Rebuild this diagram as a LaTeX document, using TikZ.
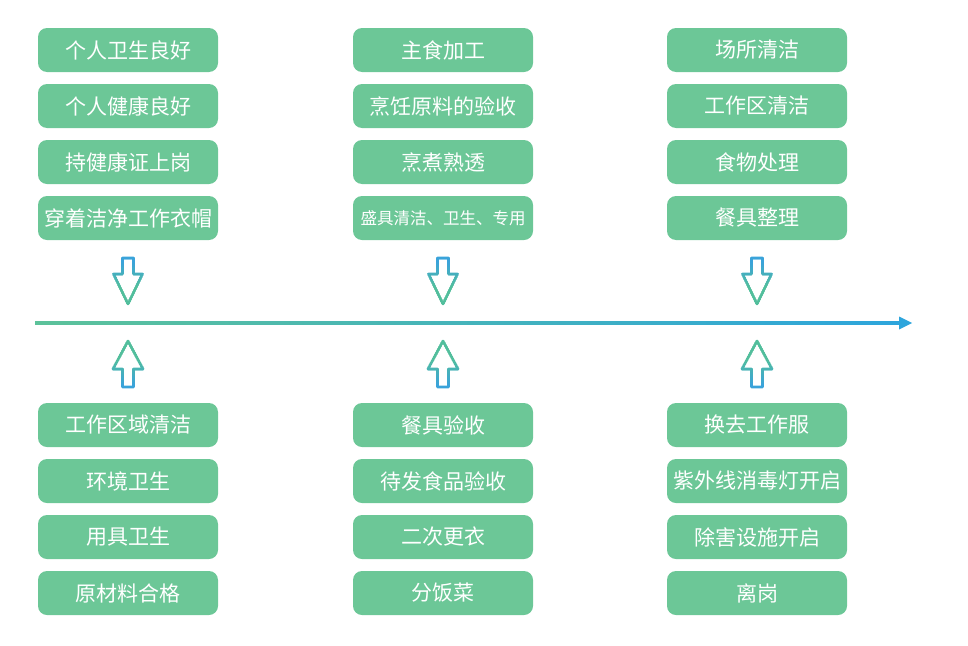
\documentclass[tikz,border=0pt]{standalone}
\usepackage{fontspec}
\newfontfamily\cjk{Noto Sans CJK SC}
\definecolor{boxgreen}{HTML}{6CC797}
\definecolor{arrblue}{HTML}{3AA3DA}
\definecolor{arrgreen}{HTML}{52BE9C}
\definecolor{linegreen}{HTML}{5CC29A}
\definecolor{lineblue}{HTML}{2DA5DC}
\tikzset{
  box/.style={rounded corners=9pt, fill=boxgreen, minimum width=180pt, minimum height=44pt,
    inner sep=0pt, text=white, font=\cjk\fontsize{21}{24}\selectfont},
  smallbox/.style={box, font=\cjk\fontsize{16.5}{20}\selectfont},
}
\newcommand{\downarrowshape}[1]{%
  (#1-5.5,258) -- (#1+5.5,258) -- (#1+5.5,274) -- (#1+14.5,274) -- (#1,304) -- (#1-14.5,274) -- (#1-5.5,274) -- cycle}
\newcommand{\uparrowshape}[1]{%
  (#1-5.5,387) -- (#1+5.5,387) -- (#1+5.5,369) -- (#1+15,369) -- (#1,341) -- (#1-15,369) -- (#1-5.5,369) -- cycle}
\begin{document}
\begin{tikzpicture}[x=1pt,y=-1pt]
\useasboundingbox (0,0) rectangle (968,645);
% top boxes
\node[box] (a1) at (128,50) {个人卫生良好};
\node[box] (a2) at (128,106) {个人健康良好};
\node[box] (a3) at (128,162) {持健康证上岗};
\node[box] (a4) at (128,218) {穿着洁净工作衣帽};
\node[box] (b1) at (443,50) {主食加工};
\node[box] (b2) at (443,106) {烹饪原料的验收};
\node[box] (b3) at (443,162) {烹煮熟透};
\node[smallbox] (b4) at (443,218) {盛具清洁、卫生、专用};
\node[box] (c1) at (757,50) {场所清洁};
\node[box] (c2) at (757,106) {工作区清洁};
\node[box] (c3) at (757,162) {食物处理};
\node[box] (c4) at (757,218) {餐具整理};
% bottom boxes
\node[box] (d1) at (128,425) {工作区域清洁};
\node[box] (d2) at (128,481) {环境卫生};
\node[box] (d3) at (128,537) {用具卫生};
\node[box] (d4) at (128,593) {原材料合格};
\node[box] (e1) at (443,425) {餐具验收};
\node[box] (e2) at (443,481) {待发食品验收};
\node[box] (e3) at (443,537) {二次更衣};
\node[box] (e4) at (443,593) {分饭菜};
\node[box] (f1) at (757,425) {换去工作服};
\node[box] (f2) at (757,481) {紫外线消毒灯开启};
\node[box] (f3) at (757,537) {除害设施开启};
\node[box] (f4) at (757,593) {离岗};
% timeline
\coordinate (ls) at (35,323);
\coordinate (le) at (899,323);
\coordinate (lt) at (912,323);
\shade[left color=linegreen, right color=lineblue] ([yshift=-1.1pt]ls) rectangle ([yshift=1.1pt]le);
\fill[lineblue] ([yshift=6.5pt]le) -- (lt) -- ([yshift=-6.5pt]le) -- cycle;
% hollow arrows with vertical gradient
\foreach \cx in {128,443,757} {
  \foreach \i in {0,...,24} {
    \pgfmathsetmacro{\ya}{255+2*\i}
    \pgfmathsetmacro{\yb}{\ya+2}
    \pgfmathsetmacro{\mixv}{max(0,min(100,(\ya-262)*100/24))}
    \begin{scope}
      \clip (0,\ya) rectangle (968,\yb);
      \draw[arrgreen!\mixv!arrblue, line width=2.6pt, line join=round] \downarrowshape{\cx};
    \end{scope}
    \pgfmathsetmacro{\yc}{338+2*\i}
    \pgfmathsetmacro{\yd}{\yc+2}
    \pgfmathsetmacro{\mixu}{max(0,min(100,(384-\yc)*100/26))}
    \begin{scope}
      \clip (0,\yc) rectangle (968,\yd);
      \draw[arrgreen!\mixu!arrblue, line width=2.6pt, line join=round] \uparrowshape{\cx};
    \end{scope}
  }
}
\end{tikzpicture}
\end{document}
